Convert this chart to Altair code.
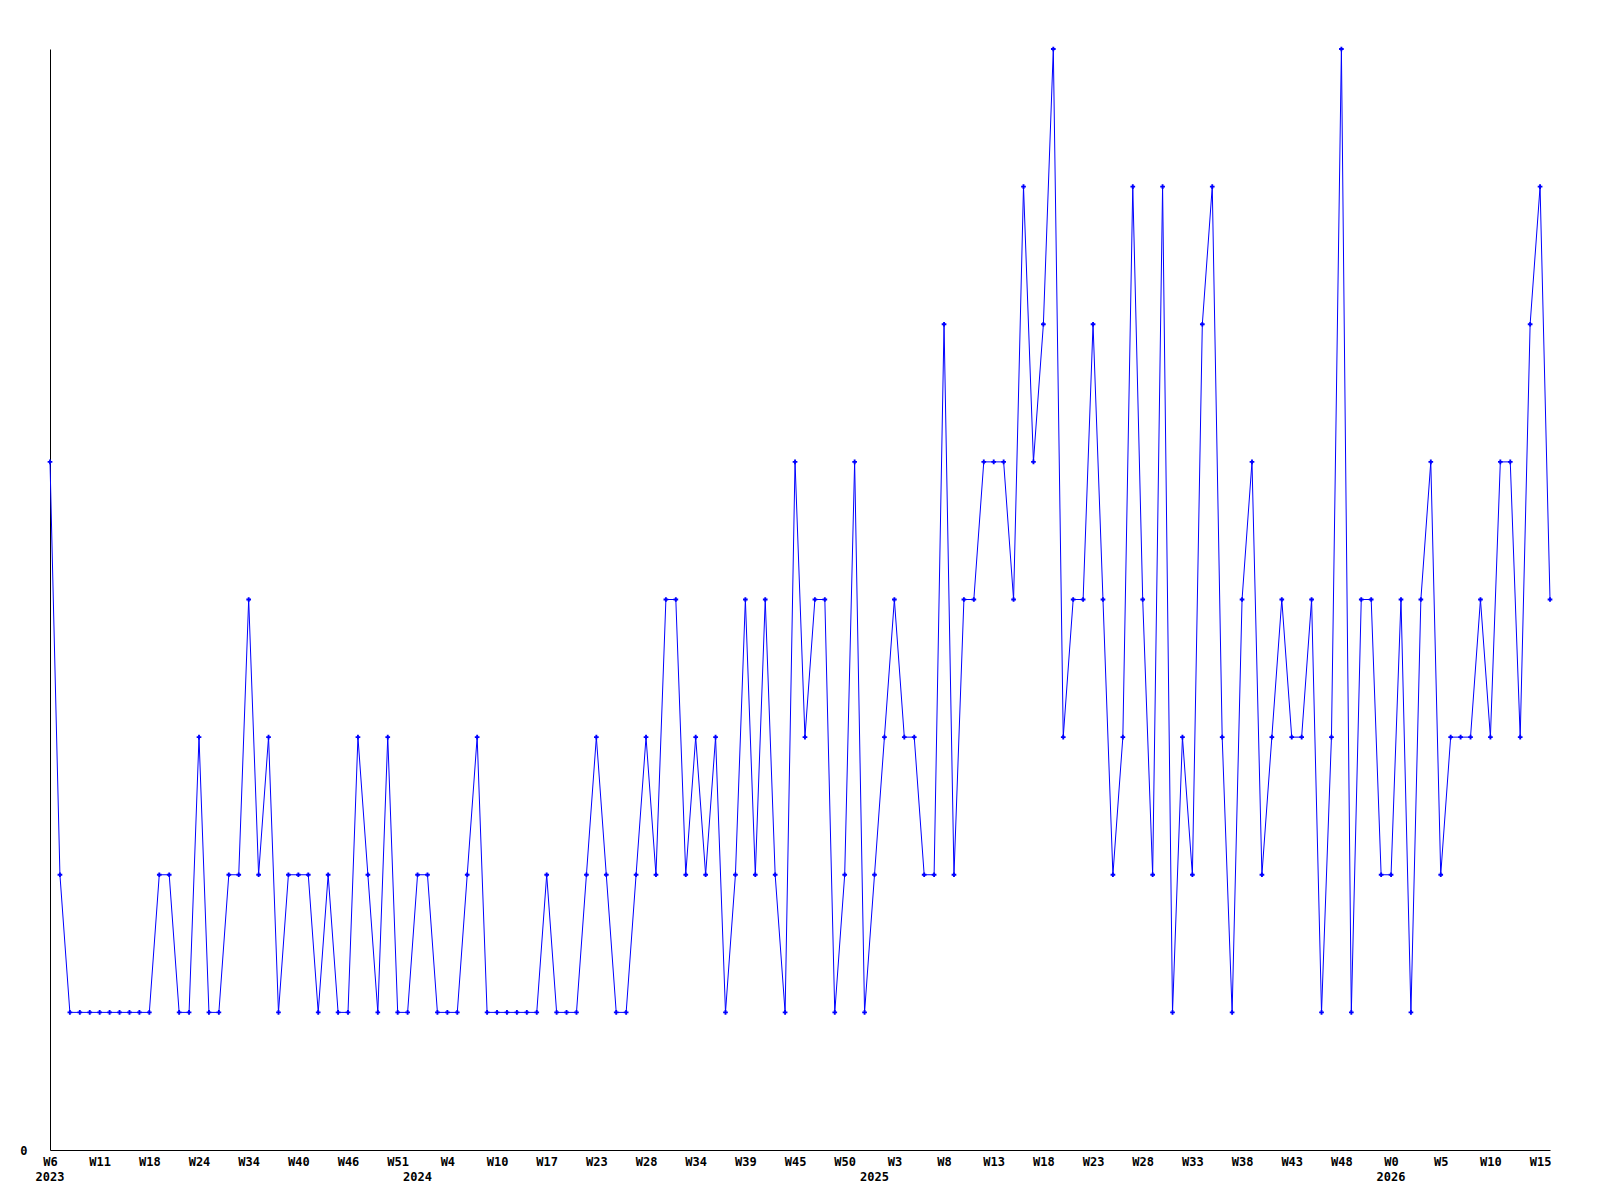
import json
import altair as alt
import pandas as pd

values = [5, 2, 1, 1, 1, 1, 1, 1, 1, 1, 1, 2, 2, 1, 1, 3, 1, 1, 2, 2, 4, 2, 3, 1, 2, 2, 2,
          1, 2, 1, 1, 3, 2, 1, 3, 1, 1, 2, 2, 1, 1, 1, 2, 3, 1, 1, 1, 1, 1, 1, 2, 1, 1, 1, 2, 3,
          2, 1, 1, 2, 3, 2, 4, 4, 2, 3, 2, 3, 1, 2, 4, 2, 4, 2, 1, 5, 3, 4, 4, 1, 2, 5, 1, 2,
          3, 4, 3, 3, 2, 2, 6, 2, 4, 4, 5, 5, 5, 4, 7, 5, 6,
          8, 3, 4, 4, 6, 4, 2, 3, 7, 4, 2, 7, 1, 3, 2, 6, 7,
          3, 1, 4, 5, 2, 3, 4, 3, 3, 4, 1, 3, 8, 1, 4, 4, 2, 2,
          4, 1, 4, 5, 2, 3, 3, 3, 4, 3, 5, 5, 3, 6, 7, 4]

week_labels = ["W6", "W11", "W18", "W24", "W34", "W40", "W46", "W51", "W4", "W10",
               "W17", "W23", "W28", "W34", "W39", "W45", "W50", "W3", "W8", "W13",
               "W18", "W23", "W28", "W33", "W38", "W43", "W48", "W0", "W5", "W10", "W15"]
label_every = 5

years = ["2023", "2024", "2025", "2026"]
year_first_point = [0, 37, 83, 135]

df = pd.DataFrame({"i": list(range(len(values))), "v": values})
ydf = pd.DataFrame({"i": year_first_point, "year": years})

FONT = "DejaVu Sans Mono"
FS = 12
W, H = 1500, 1101
n = len(values)

xscale = alt.Scale(domain=[0, n - 1], nice=False, zero=False)
yscale = alt.Scale(domain=[0, 8], nice=False)

label_expr = f"{json.dumps(week_labels)}[round(datum.value/{label_every})]"

base = alt.Chart(df)

line = base.mark_line(color="#0000ff", strokeWidth=1).encode(
    x=alt.X("i:Q", scale=xscale,
            axis=alt.Axis(values=list(range(0, n, label_every)), labelExpr=label_expr,
                          ticks=False, tickSize=0, grid=False, title=None,
                          labelPadding=6, labelOverlap=False, labelFlush=False,
                          domainColor="black", labelColor="black",
                          labelFont=FONT, labelFontSize=FS, labelFontWeight="bold")),
    y=alt.Y("v:Q", scale=yscale,
            axis=alt.Axis(values=[0], format="d", ticks=False, tickSize=0, grid=False, title=None,
                          labelPadding=23, domainColor="black", labelColor="black",
                          labelFont=FONT, labelFontSize=FS, labelFontWeight="bold")),
)

pts = base.mark_point(shape="cross", filled=True, color="#0000ff", size=22, opacity=1).encode(
    x=alt.X("i:Q", scale=xscale),
    y=alt.Y("v:Q", scale=yscale),
)

yrs = alt.Chart(ydf).mark_text(font=FONT, fontSize=FS, fontWeight="bold", color="black",
                               align="center", baseline="middle").encode(
    x=alt.X("i:Q", scale=xscale),
    y=alt.value(H + 27),
    text="year:N",
)

chart = alt.layer(line, pts, yrs).properties(
    width=W, height=H,
    autosize=alt.AutoSizeParams(type="none"),
    padding={"left": 42, "top": 41, "right": 40, "bottom": 40},
    background="white",
).configure_view(stroke=None)

chart.save("out.html", embed_options={"renderer": "svg", "actions": False})
